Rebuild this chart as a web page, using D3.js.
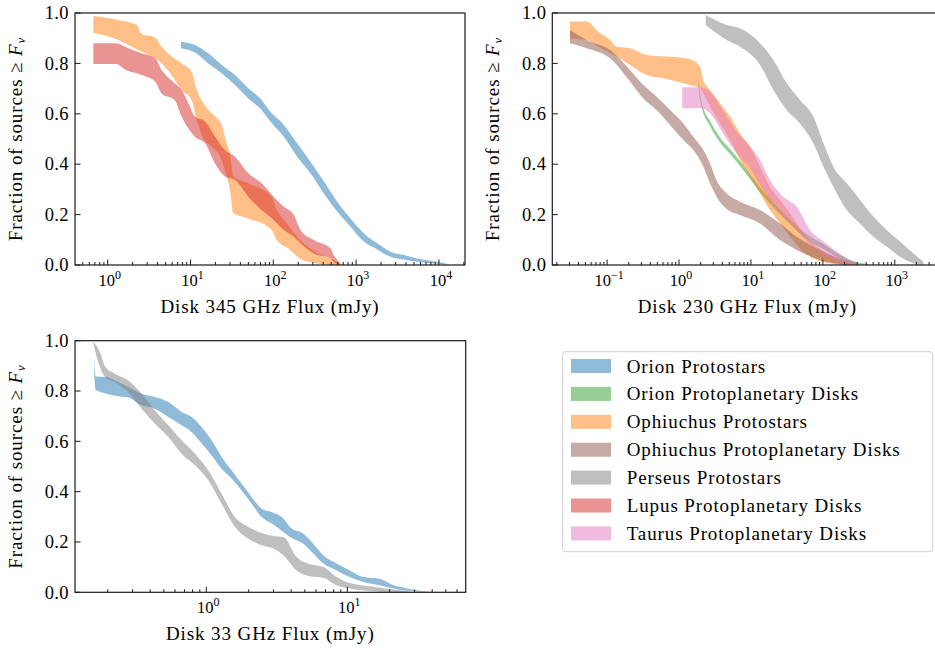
<!DOCTYPE html>
<html>
<head>
<meta charset="utf-8">
<script src="https://cdn.jsdelivr.net/npm/d3@7"></script>
<style>
  body { margin: 0; background: #fff; }
  text { font-family: "Liberation Serif", "Times New Roman", serif; fill: #000; }
</style>
</head>
<body>
<svg id="fig" width="935" height="650"></svg>
<script>
// Survival-function confidence bands: each row is [flux (mJy), lower fraction, upper fraction]

// ---- 345 GHz ----
const orionProto345 = [
  [7.68, .860, .886], [11.3, .843, .873], [16.4, .800, .840], [23.8, .761, .794],
  [34.5, .714, .754], [49.9, .661, .701], [72.3, .615, .655], [92.2, .569, .608],
  [134, .509, .556], [194, .430, .483], [281, .364, .410], [408, .284, .331],
  [591, .212, .251], [856, .152, .185], [1240, .093, .126], [1797, .062, .086],
  [2603, .033, .053], [3772, .022, .040], [5465, .013, .026], [7917, .007, .017],
  [10450, .004, .011], [12600, 0, .004]
];
const ophProto345 = [
  [0.671, .922, .988], [1.344, .893, .972], [2.24, .856, .952], [2.57, .847, .917],
  [3.73, .820, .903], [4.48, .800, .866], [5.93, .754, .827], [7.82, .694, .800],
  [10.3, .655, .767], [11.9, .575, .694], [14.3, .503, .642], [18.0, .470, .602],
  [23.8, .417, .556], [27.3, .351, .483], [30.0, .298, .443], [32.9, .205, .351],
  [49.9, .185, .324], [95.4, .139, .271], [110, .099, .220], [150, .066, .160],
  [210, .026, .100], [330, .007, .050], [530, 0, .020], [680, 0, 0]
];
const lupusPP345 = [
  [0.671, .798, .880], [1.283, .798, .880], [1.62, .776, .866], [2.24, .761, .847],
  [2.57, .754, .840], [3.73, .728, .820], [4.48, .681, .774], [6.44, .655, .721],
  [7.82, .589, .694], [9.42, .542, .642], [11.3, .509, .589], [15.0, .483, .569],
  [19.8, .403, .509], [26.1, .351, .456], [34.5, .337, .430], [49.9, .271, .364],
  [72.3, .218, .324], [101, .179, .271], [134, .139, .231], [177, .112, .198],
  [213, .086, .139], [308, .046, .099], [489, .026, .066], [535, .013, .040],
  [645, 0, .007]
];

// ---- 230 GHz ----
const orionPP230 = [
  [1.86, .715, .740], [1.95, .660, .690], [2.05, .630, .650], [2.70, .552, .572],
  [3.72, .486, .506], [5.12, .440, .460], [7.05, .393, .413], [9.71, .341, .361],
  [13.4, .288, .308], [20.5, .228, .248], [35.0, .162, .182], [59.6, .102, .122],
  [102, .063, .083], [173, .025, .041], [295, .002, .012], [453, 0, .002]
];
const ophProto230 = [
  [0.0305, .899, .966], [0.0520, .893, .966], [0.0755, .866, .926], [0.110, .840, .893],
  [0.136, .827, .866], [0.208, .794, .860], [0.355, .754, .833], [0.606, .741, .827],
  [0.928, .728, .824], [1.42, .714, .816], [1.96, .701, .787], [2.18, .681, .734],
  [2.70, .628, .694], [3.72, .562, .642], [5.12, .496, .589], [7.05, .417, .522],
  [9.71, .351, .470], [13.4, .284, .390], [18.4, .218, .311], [25.4, .165, .258],
  [35.0, .112, .205], [53.6, .053, .126], [82.1, .020, .073], [126, .007, .040],
  [193, 0, .017], [295, 0, 0]
];
const ophPP230 = [
  [0.0305, .880, .933], [0.0520, .860, .893], [0.110, .820, .853], [0.208, .728, .774],
  [0.319, .661, .714], [0.489, .615, .668], [0.750, .556, .615], [1.149, .496, .562],
  [1.58, .456, .509], [2.18, .390, .456], [2.70, .324, .403], [3.34, .270, .334],
  [4.60, .222, .284], [7.05, .198, .251], [13.4, .165, .218], [25.4, .099, .165],
  [43.3, .060, .112], [91.3, .020, .060], [173, .004, .026], [295, 0, .007]
];
const perseusProto230 = [
  [2.35, .952, .992], [4.60, .893, .952], [7.05, .866, .939], [13.4, .794, .880],
  [20.5, .694, .813], [31.4, .615, .721], [48.1, .562, .655], [73.8, .483, .589],
  [102, .390, .483], [140, .311, .390], [215, .218, .324], [329, .165, .258],
  [504, .112, .192], [772, .073, .139], [1183, .033, .093], [1813, .007, .046],
  [2498, 0, .013]
];
const taurusPP230 = [
  [1.11, .622, .705], [1.96, .622, .705], [2.70, .602, .688], [4.14, .520, .610],
  [6.34, .443, .529], [9.71, .384, .470], [13.4, .317, .417], [18.4, .258, .337],
  [28.2, .192, .271], [43.3, .139, .231], [66.3, .079, .139], [102, .046, .093],
  [156, .020, .053], [239, .004, .020], [312, 0, .004]
];

// ---- 33 GHz ----
const orionProto33 = [
  [0.1606, .858, .932], [0.1641, .805, .858], [0.1964, .789, .856], [0.2376, .779, .836],
  [0.280, .774, .816], [0.348, .743, .789], [0.432, .730, .776], [0.538, .697, .756],
  [0.668, .664, .717], [0.787, .637, .697], [0.927, .591, .657], [1.091, .544, .604],
  [1.284, .491, .538], [1.512, .452, .485], [1.781, .405, .432], [2.097, .352, .379],
  [2.47, .299, .332], [2.907, .273, .319], [3.52, .240, .293], [3.92, .220, .260],
  [4.88, .193, .233], [5.74, .154, .193], [6.76, .114, .147], [8.40, .087, .114],
  [10.4, .061, .087], [13.0, .041, .061], [17.0, .028, .054], [21.2, .015, .028],
  [24.9, .008, .019], [31.0, .003, .008], [38.6, 0, .001]
];
const perseusProto33 = [
  [0.158, .988, .995], [0.176, .895, .955], [0.191, .856, .898], [0.225, .836, .869],
  [0.280, .796, .842], [0.348, .730, .789], [0.432, .670, .723], [0.538, .617, .664],
  [0.668, .551, .604], [0.831, .505, .551], [1.033, .445, .485], [1.284, .352, .392],
  [1.597, .260, .299], [1.986, .213, .260], [2.47, .187, .236], [3.07, .171, .223],
  [3.52, .147, .220], [4.37, .087, .140], [5.44, .064, .111], [6.76, .058, .101],
  [8.40, .028, .061], [10.4, .015, .037], [14.5, .005, .024], [20.1, .001, .013],
  [27.8, 0, .003]
];

// Legend entries and their colours
const groupNames = [
  "Orion Protostars", "Orion Protoplanetary Disks", "Ophiuchus Protostars",
  "Ophiuchus Protoplanetary Disks", "Perseus Protostars", "Lupus Protoplanetary Disks",
  "Taurus Protoplanetary Disks"
];
const groupColors = ["#1f77b4", "#2ca02c", "#ff7f0e", "#8c564b", "#7f7f7f", "#d62728", "#e377c2"];
const yTicks = [0, 0.2, 0.4, 0.6, 0.8, 1.0];

const panels = [
  { left: 75, right: 465, top: 13, bottom: 265, domain: [0.4028, 20665],
    label: "Disk 345 GHz Flux (mJy)",
    bands: [[orionProto345, 0], [ophProto345, 2], [lupusPP345, 5]] },
  { left: 552.3, right: 942.3, top: 13, bottom: 265, domain: [0.0173, 4581],
    label: "Disk 230 GHz Flux (mJy)",
    bands: [[orionPP230, 1], [ophProto230, 2], [ophPP230, 3], [perseusProto230, 4], [taurusPP230, 6]] },
  { left: 75, right: 465.7, top: 340.7, bottom: 592.3, domain: [0.1172, 69.15],
    label: "Disk 33 GHz Flux (mJy)",
    bands: [[orionProto33, 0], [perseusProto33, 4]] }
];

const svg = d3.select("#fig");
const ink = "#1a1a1a";
const wideText = 0.9;   // extra tracking for the serif labels

panels.forEach((p, i) => {
  const x = d3.scaleLog().domain(p.domain).range([p.left, p.right]);
  const y = d3.scaleLinear().domain([0, 1]).range([p.bottom, p.top]);
  const g = svg.append("g");

  const clipId = "clip" + i;
  g.append("clipPath").attr("id", clipId).append("rect")
    .attr("x", p.left).attr("y", p.top)
    .attr("width", p.right - p.left).attr("height", p.bottom - p.top);

  const area = d3.area()
    .curve(d3.curveMonotoneX)
    .x(d => x(d[0])).y0(d => y(d[1])).y1(d => y(d[2]));

  const plot = g.append("g").attr("clip-path", `url(#${clipId})`);
  p.bands.forEach(([data, ci]) => {
    plot.append("path").attr("d", area(data))
      .attr("fill", groupColors[ci]).attr("fill-opacity", 0.5);
  });

  // log ticks on the bottom axis, pointing inward
  const k0 = Math.floor(Math.log10(p.domain[0])), k1 = Math.ceil(Math.log10(p.domain[1]));
  for (let k = k0; k <= k1; k++) {
    for (let m = 1; m <= 9; m++) {
      const v = m * Math.pow(10, k);
      if (v < p.domain[0] || v > p.domain[1]) continue;
      const px = x(v);
      const len = m === 1 ? 5.5 : 3;
      g.append("line").attr("x1", px).attr("x2", px)
        .attr("y1", p.bottom).attr("y2", p.bottom - len)
        .attr("stroke", ink).attr("stroke-width", 1);
      if (m === 1 && px <= 935) {
        const t = g.append("text").attr("x", px + 2).attr("y", p.bottom + 21)
          .attr("text-anchor", "middle").attr("font-size", 16.5);
        t.append("tspan").text("10");
        t.append("tspan").attr("dy", -7).attr("font-size", 12)
          .text(k < 0 ? "\u2212" + (-k) : String(k));
      }
    }
  }

  // y ticks
  yTicks.forEach(v => {
    g.append("line").attr("x1", p.left).attr("x2", p.left + 5.5)
      .attr("y1", y(v)).attr("y2", y(v)).attr("stroke", ink).attr("stroke-width", 1);
    g.append("text").attr("x", p.left - 6).attr("y", y(v))
      .attr("dy", "0.34em").attr("text-anchor", "end").attr("font-size", 18.5)
      .attr("letter-spacing", 0.4)
      .text(v.toFixed(1));
  });

  // frame
  g.append("rect").attr("x", p.left).attr("y", p.top)
    .attr("width", p.right - p.left).attr("height", p.bottom - p.top)
    .attr("fill", "none").attr("stroke", ink).attr("stroke-width", 1.2);

  // axis titles
  g.append("text").attr("x", (p.left + p.right) / 2).attr("y", p.bottom + 48)
    .attr("text-anchor", "middle").attr("font-size", 19)
    .attr("letter-spacing", wideText).text(p.label);

  const yl = g.append("text")
    .attr("transform", `translate(${p.left - 53},${(p.top + p.bottom) / 2}) rotate(-90)`)
    .attr("text-anchor", "middle").attr("font-size", 19).attr("letter-spacing", wideText);
  yl.append("tspan").text("Fraction of sources \u2265 ");
  yl.append("tspan").attr("font-style", "italic").text("F");
  yl.append("tspan").attr("font-style", "italic").attr("font-size", 13).attr("dy", 3).text("\u03bd");
});

// legend
const lg = svg.append("g");
lg.append("rect").attr("x", 562.7).attr("y", 351.7).attr("width", 370).attr("height", 200)
  .attr("rx", 3).attr("fill", "#fff").attr("stroke", "#d0d0d0").attr("stroke-width", 1);
groupNames.forEach((name, i) => {
  const cy = 366 + 27.9 * i;
  lg.append("rect").attr("x", 571).attr("y", cy - 7).attr("width", 40).attr("height", 14)
    .attr("fill", groupColors[i]).attr("fill-opacity", 0.5);
  lg.append("text").attr("x", 626.7).attr("y", cy + 6.5).attr("font-size", 19)
    .attr("letter-spacing", wideText).text(name);
});
</script>
</body>
</html>
